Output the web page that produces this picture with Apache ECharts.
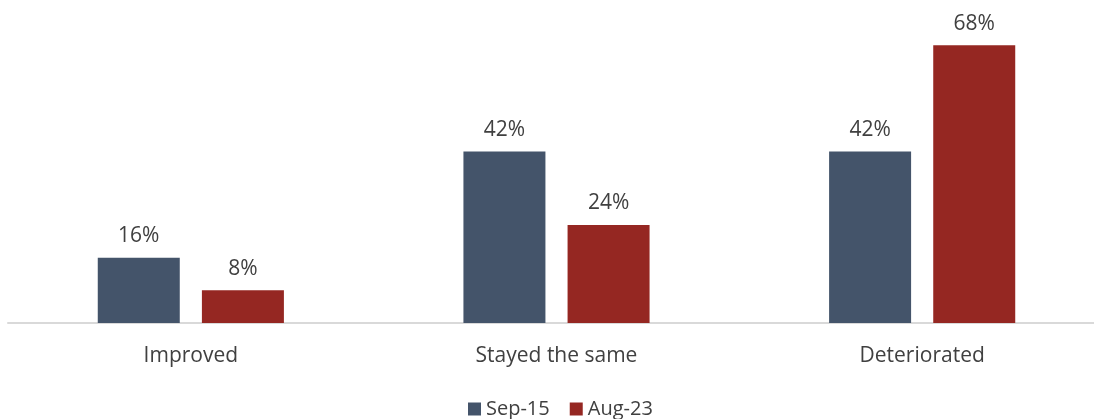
<!DOCTYPE html>
<html>
<head>
<meta charset="utf-8">
<script src="https://cdn.jsdelivr.net/npm/echarts@6/dist/echarts.min.js"></script>
<style>
  html, body { margin: 0; padding: 0; background: #fff; overflow: hidden; }
  #chart { width: 1105px; height: 419px; }
</style>
</head>
<body>
<div id="chart"></div>
<script>
// Share of respondents by how conditions changed
const categories = ['Improved', 'Stayed the same', 'Deteriorated'];
const seriesNames = ['Sep-15', 'Aug-23'];
const sep15 = [16, 42, 42];
const aug23 = [8, 24, 68];

const textColor = '#404040';
const fontFamily = '"Open Sans", "Noto Sans", sans-serif';

const chart = echarts.init(document.getElementById('chart'));

const labelStyle = {
  show: true,
  position: 'top',
  distance: 11,
  formatter: p => p.value + '%',
  color: textColor,
  fontSize: 21,
  fontFamily: fontFamily
};

chart.setOption({
  animation: false,
  grid: { left: 8, right: 0, top: 37, bottom: 96, containLabel: false },
  legend: {
    data: seriesNames,
    bottom: -5,
    left: 463,
    itemWidth: 13,
    itemHeight: 13,
    itemGap: 20,
    icon: 'rect',
    textStyle: { color: textColor, fontSize: 20, fontFamily: fontFamily }
  },
  xAxis: {
    type: 'category',
    data: categories,
    axisLine: { lineStyle: { color: '#d9d9d9', width: 2 } },
    axisTick: { show: false },
    axisLabel: { color: textColor, fontSize: 21, fontFamily: fontFamily, margin: 23 }
  },
  yAxis: {
    type: 'value',
    min: 0,
    max: 70,
    show: false,
    splitLine: { show: false }
  },
  series: [
    {
      name: seriesNames[0],
      type: 'bar',
      data: sep15,
      barWidth: 82,
      barGap: '27%',
      itemStyle: { color: '#44546A' },
      label: labelStyle
    },
    {
      name: seriesNames[1],
      type: 'bar',
      data: aug23,
      barWidth: 82,
      itemStyle: { color: '#952722' },
      label: labelStyle
    }
  ]
});
</script>
</body>
</html>
